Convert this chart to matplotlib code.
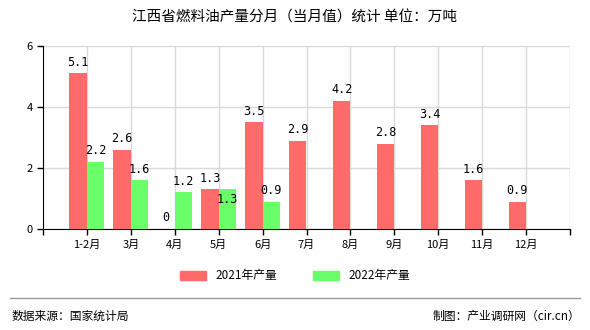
import numpy as np
import matplotlib.pyplot as plt
from matplotlib.patches import Patch

plt.rcParams['font.family'] = ['Noto Sans CJK SC', 'DejaVu Sans']

months = ['1-2月', '3月', '4月', '5月', '6月', '7月', '8月', '9月', '10月', '11月', '12月']
v2021 = [5.1, 2.6, 0, 1.3, 3.5, 2.9, 4.2, 2.8, 3.4, 1.6, 0.9]
v2022 = [2.2, 1.6, 1.2, 1.3, 0.9]
red = '#ff6a6a'
green = '#6aff6a'

fig = plt.figure(figsize=(5.9, 3.3), dpi=100)
ax = fig.add_axes([43/590, 1-229/330, (570-43)/590, (229-46)/330])

x = np.arange(1, len(months)+1)
w = 0.4
ax.bar(x - w/2, v2021, w, color=red, zorder=3)
ax.bar(x[:len(v2022)] + w/2, v2022, w, color=green, zorder=3)

# 数值标签
for i, v in enumerate(v2021):
    ax.text(x[i]-w/2, v+0.15, str(v) if v else '0', ha='center', va='bottom',
            fontsize=8.5, family='DejaVu Sans Mono', zorder=4)
for i, v in enumerate(v2022):
    off = 0.15
    if i == 3:
        off = -0.55  # 5月标签与红柱重叠,放到柱内
    ax.text(x[i]+w/2, v+off, str(v), ha='center', va='bottom',
            fontsize=8.5, family='DejaVu Sans Mono', zorder=4)

ax.set_xlim(0, 12)
ax.set_ylim(0, 6)
ax.set_yticks([0, 2, 4, 6])
ax.set_xticks(range(0, 13))
ax.set_xticklabels([''] + months + [''])
ax.tick_params(labelsize=8, length=4, width=1, color='black')
ax.grid(True, color='#d9d9d9', lw=1, zorder=0)
for s in ['top', 'right']:
    ax.spines[s].set_visible(False)
for s in ['left', 'bottom']:
    ax.spines[s].set_color('black')

fig.text(0.5, 1-18/330, '江西省燃料油产量分月（当月值）统计 单位：万吨', ha='center', va='center', fontsize=10.5)

handles = [Patch(color=red, label='2021年产量'), Patch(color=green, label='2022年产量')]
fig.legend(handles=handles, loc='center', bbox_to_anchor=(0.5, 1-276/330), ncol=2, frameon=False,
           fontsize=8.5, handlelength=2.2, handleheight=0.9, columnspacing=3)

fig.add_artist(plt.Line2D([10/590, 580/590], [1-298/330, 1-298/330], color='#999999', lw=1))
fig.text(12/590, 1-316/330, '数据来源：国家统计局', ha='left', va='center', fontsize=8.5)
fig.text(580/590, 1-316/330, '制图：产业调研网（cir.cn）', ha='right', va='center', fontsize=8.5)

fig.savefig('out.png', dpi=100)
